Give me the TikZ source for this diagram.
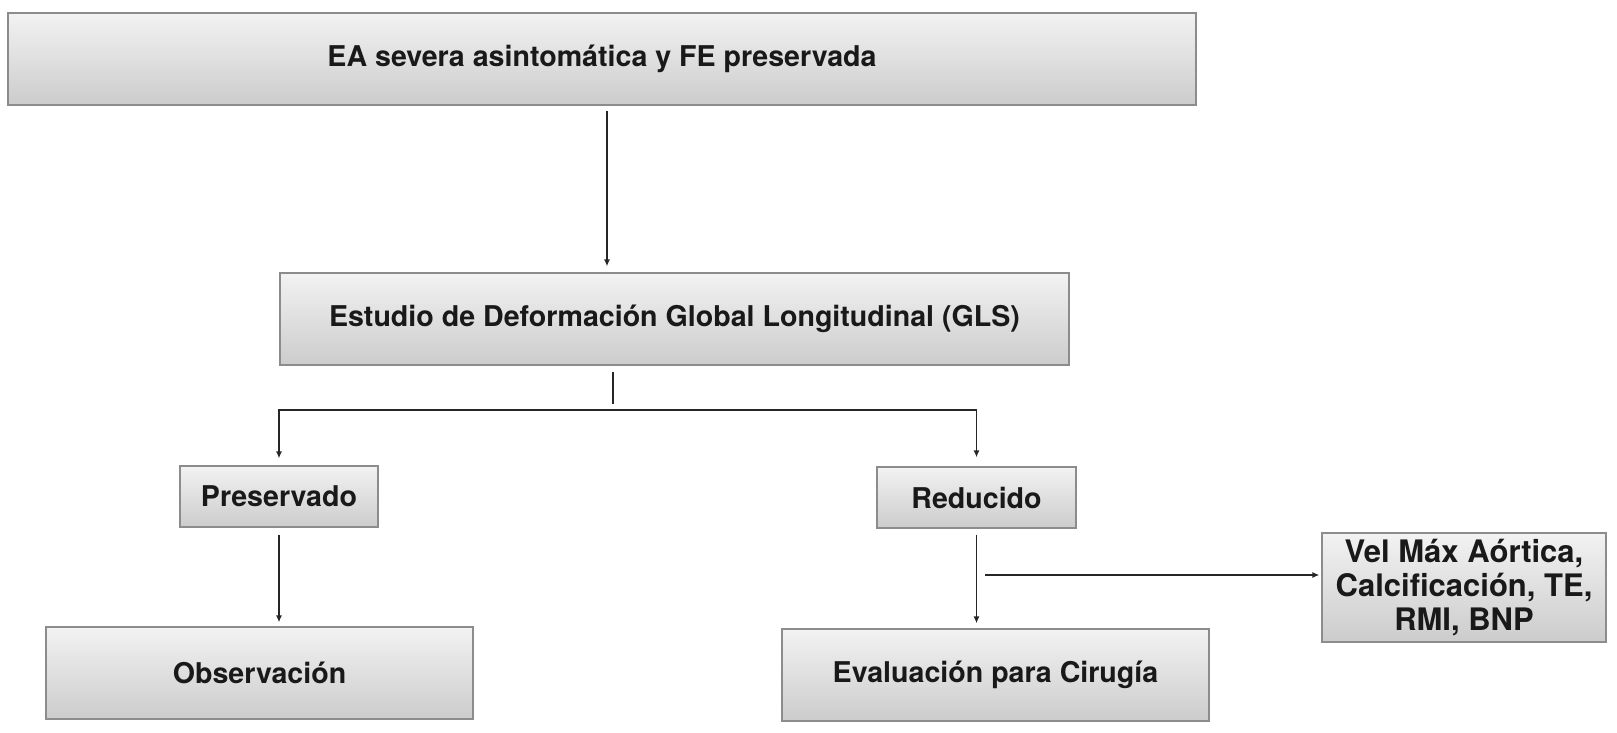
\documentclass[tikz,border=0pt]{standalone}
\usepackage{fontspec}
\setmainfont{TeX Gyre Heros}
\usetikzlibrary{arrows.meta}
\tikzset{
  box/.style={draw=black!45, line width=1.2pt, top color=black!5, bottom color=black!20,
    inner sep=0pt, align=center, font=\fontsize{28.6}{35}\selectfont\bfseries, text=black!90},
  conn/.style={draw=black!85, line width=1.8pt},
  arr/.style={conn, -{Latex[length=7pt,width=6pt]}},
}
\begin{document}
\begin{tikzpicture}[x=1pt,y=-1pt]
\useasboundingbox (0,0) rectangle (1617,733);
\node[box, minimum width=1188pt, minimum height=92pt] (top) at (602,59) {\raisebox{-2pt}{EA severa asintomática y FE preservada}};
\node[box, minimum width=789pt, minimum height=92pt] (gls) at (674.5,319) {Estudio de Deformación Global Longitudinal (GLS)};
\node[box, minimum width=198pt, minimum height=61pt] (pres) at (279,496.5) {Preservado};
\node[box, minimum width=199pt, minimum height=61pt] (red) at (976.5,497.5) {Reducido};
\node[box, minimum width=427pt, minimum height=92pt] (obs) at (259.5,673) {Observación};
\node[box, minimum width=427pt, minimum height=92pt] (eval) at (995.5,675) {Evaluación para Cirugía};
\node[box, minimum width=284pt, minimum height=109pt, font=\fontsize{31}{34}\selectfont\bfseries] (vel) at (1464,587.5) {Vel Máx Aórtica,\\Calcificación, TE,\\RMI, BNP};
\coordinate (c1) at (607,0);
\coordinate (j) at (613,404);
\coordinate (hb) at (0,410);
\coordinate (b) at (985,575);
\draw[arr, shorten <=5pt, shorten >=6pt] (top.south -| c1) -- (gls.north -| c1);
\draw[conn] ([yshift=-6pt]gls.south -| j) -- (j);
\draw[arr, shorten >=7pt] (red.north |- hb) -- (pres.north |- hb) -- (pres.north);
\draw[arr, shorten >=9pt] (red.north |- hb) -- (red.north);
\draw[arr, shorten <=7pt, shorten >=4pt] (pres.south) -- (pres.south |- obs.north);
\draw[arr, shorten <=6pt, shorten >=5pt] (red.south) -- (red.south |- eval.north);
\draw[arr, shorten >=2pt] (b) -- (b -| vel.west);
\end{tikzpicture}
\end{document}
